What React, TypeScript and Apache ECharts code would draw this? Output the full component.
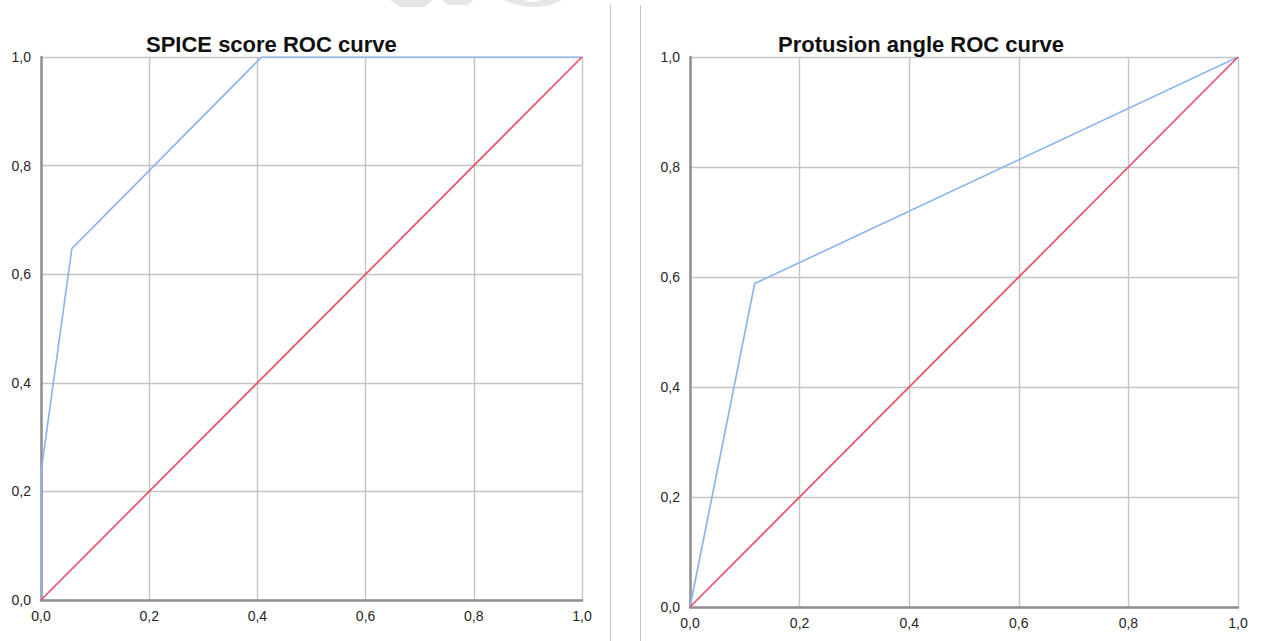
import React, { useEffect, useRef } from "react";
import * as echarts from "echarts";

const ticks = [0, 0.2, 0.4, 0.6, 0.8, 1.0];
const spiceFpr = [0, 0, 0.057, 0.408, 1.0];
const spiceTpr = [0, 0.235, 0.647, 1.0, 1.0];
const protFpr = [0, 0.118, 1.0];
const protTpr = [0, 0.588, 1.0];
const refLine = [0, 1];
const titles = ["SPICE score ROC curve", "Protusion angle ROC curve"];

const BLUE = "#8db6ef";
const RED = "#e8506e";
const fmt = (v: number) => v.toFixed(1).replace(".", ",");

export default function App() {
  const ref = useRef<HTMLDivElement>(null);
  useEffect(() => {
    if (!ref.current) return;
    const chart = echarts.init(ref.current, null, { renderer: "svg" });
    const axisCommon = {
      type: "value",
      min: ticks[0],
      max: ticks[ticks.length - 1],
      interval: 0.2,
      axisLine: { show: true, onZero: false, lineStyle: { color: "#8f8f8f", width: 2.5 } },
      axisTick: { show: false },
      splitLine: { show: true, lineStyle: { color: "#c4c4c4", width: 1.4 } },
      axisLabel: {
        formatter: fmt,
        color: "#262626",
        fontFamily: "Liberation Sans, Arial, sans-serif",
        fontSize: 14,
        showMinLabel: true,
        showMaxLabel: true,
      },
    };
    const zip = (xs: number[], ys: number[]) => xs.map((x, i) => [x, ys[i]]);
    const titleStyle = { fontFamily: "Liberation Sans, Arial, sans-serif", fontWeight: "bold", fontSize: 22, color: "#111" };
    chart.setOption({
      animation: false,
      backgroundColor: "#ffffff",
      title: [
        { text: titles[0], left: 141, top: 28, textStyle: titleStyle },
        { text: titles[1], left: 773, top: 28, textStyle: titleStyle },
      ],
      grid: [
        { left: 41, top: 57, width: 541, height: 543 },
        { left: 690, top: 57, width: 548, height: 550 },
      ],
      xAxis: [
        { ...axisCommon, gridIndex: 0, axisLabel: { ...axisCommon.axisLabel, margin: 9 } },
        { ...axisCommon, gridIndex: 1, axisLabel: { ...axisCommon.axisLabel, margin: 9 } },
      ],
      yAxis: [
        { ...axisCommon, gridIndex: 0, axisLabel: { ...axisCommon.axisLabel, margin: 10 } },
        { ...axisCommon, gridIndex: 1, axisLabel: { ...axisCommon.axisLabel, margin: 10 } },
      ],
      series: [
        { type: "line", xAxisIndex: 0, yAxisIndex: 0, data: zip(spiceFpr, spiceTpr), showSymbol: false, lineStyle: { color: BLUE, width: 1.7 } },
        { type: "line", xAxisIndex: 0, yAxisIndex: 0, data: zip(refLine, refLine), showSymbol: false, lineStyle: { color: RED, width: 1.7 } },
        { type: "line", xAxisIndex: 1, yAxisIndex: 1, data: zip(protFpr, protTpr), showSymbol: false, lineStyle: { color: BLUE, width: 1.7 } },
        { type: "line", xAxisIndex: 1, yAxisIndex: 1, data: zip(refLine, refLine), showSymbol: false, lineStyle: { color: RED, width: 1.7 } },
      ],
      graphic: [
        { type: "line", shape: { x1: 610.5, y1: 5, x2: 610.5, y2: 641 }, style: { stroke: "#c4c4c4", lineWidth: 1 } },
        { type: "line", shape: { x1: 640.5, y1: 5, x2: 640.5, y2: 641 }, style: { stroke: "#c4c4c4", lineWidth: 1 } },
        { type: "polygon", shape: { points: [[390, 0], [433, 0], [425, 7], [400, 7]] }, style: { fill: "#e6e6e6" } },
        { type: "polygon", shape: { points: [[442, 0], [473, 0], [468, 5], [448, 5]] }, style: { fill: "#e6e6e6" } },
        { type: "ellipse", shape: { cx: 533, cy: -22, rx: 44, ry: 29 }, style: { fill: "#e6e6e6" } },
        { type: "ellipse", shape: { cx: 532, cy: -12, rx: 16, ry: 14 }, style: { fill: "#ffffff" } },
      ],
    });
    return () => chart.dispose();
  }, []);
  return <div ref={ref} style={{ position: "fixed", left: 0, top: 0, width: 1264, height: 641 }} />;
}
